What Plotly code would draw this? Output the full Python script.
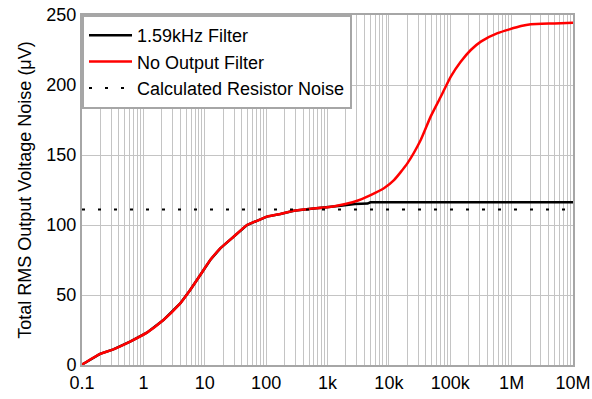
import plotly.graph_objects as go

# Data
freq_red = [0.1, 0.112, 0.197, 0.324, 0.608, 1.14, 2.12, 3.98, 5.79, 8.45, 12.3, 17.9, 29.5,
            48.8, 71, 103, 171, 282, 500, 990, 1630, 2800, 5040, 8300, 12100, 20000, 33000,
            47900, 70000, 102000, 148000, 216000, 315000, 590000, 1.42e6, 2.06e6, 5.0e6, 1e7]
noise_red = [0.3, 1.6, 7.9, 11.2, 16.7, 23.1, 32.1, 44, 53.6, 64.3, 75, 83.3, 91.6,
             100, 103, 106, 107.9, 110.2, 111.5, 112.6, 114.3, 116.8, 121.4, 126.2, 132, 144, 160.7,
             177.4, 191.6, 206, 216.6, 225, 231, 237, 242.1, 243.4, 244, 244.5]

freq_black = [0.1, 0.112, 0.197, 0.324, 0.608, 1.14, 2.12, 3.98, 5.79, 8.45, 12.3, 17.9, 29.5,
              48.8, 71, 103, 171, 282, 500, 990, 1630, 2800, 4500, 5000, 1e7]
noise_black = [0.3, 1.6, 7.9, 11.2, 16.7, 23.1, 32.1, 44, 53.6, 64.3, 75, 83.3, 91.6,
               100, 103, 106, 107.9, 110.2, 111.5, 112.6, 113.8, 115, 115.3, 116.2, 116.2]

freq_calc = [0.1, 1e7]
noise_calc = [111, 111]

tick_vals = [0.1, 1, 10, 100, 1e3, 1e4, 1e5, 1e6, 1e7]
tick_text = ["0.1", "1", "10", "100", "1k", "10k", "100k", "1M", "10M"]

FONT = "Liberation Sans, Arial, sans-serif"

fig = go.Figure()
fig.add_trace(go.Scatter(x=freq_black, y=noise_black, mode="lines", name="1.59kHz Filter",
                         line=dict(color="black", width=2.5)))
fig.add_trace(go.Scatter(x=freq_red, y=noise_red, mode="lines", name="No Output Filter",
                         line=dict(color="#ff0000", width=2.5, shape="spline", smoothing=0.5)))
fig.add_trace(go.Scatter(x=freq_calc, y=noise_calc, mode="lines", name="Calculated Resistor Noise",
                         line=dict(color="black", width=2, dash="3px,13px")))

fig.update_layout(
    width=592, height=399,
    margin=dict(l=82, r=19, t=15, b=34, autoexpand=False),
    paper_bgcolor="white", plot_bgcolor="white",
    font=dict(family=FONT, size=18, color="black"),
    showlegend=True,
    legend=dict(x=0, y=1, xanchor="left", yanchor="top", bgcolor="white",
                bordercolor="#a6a6a6", borderwidth=2, font=dict(size=18),
                tracegroupgap=0, itemwidth=43),
)
fig.update_xaxes(
    type="log", range=[-1, 7], tickvals=tick_vals, ticktext=tick_text,
    showgrid=True, gridcolor="#c4c4c4", gridwidth=1,
    minor=dict(dtick="D1", showgrid=True, gridcolor="#c4c4c4", gridwidth=1, ticks=""),
    showline=True, linecolor="#a6a6a6", linewidth=2, mirror=True,
    ticks="", zeroline=False, tickfont=dict(size=18), automargin=False,
)
fig.update_yaxes(
    range=[0, 250], dtick=50, showgrid=True, gridcolor="#c4c4c4", gridwidth=1,
    showline=True, linecolor="#a6a6a6", linewidth=2, mirror=True,
    ticks="", zeroline=False, tickfont=dict(size=18), automargin=False,
    title=dict(text="Total RMS Output Voltage Noise (\u03bcV)", font=dict(size=18), standoff=10),
)

fig.write_html("out.html", config={"displayModeBar": False},
               post_script="document.body.style.margin='0';")
